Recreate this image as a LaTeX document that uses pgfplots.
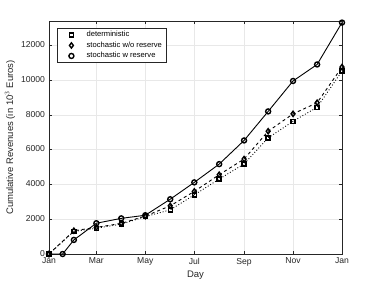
\documentclass[border=0pt]{standalone}
\usepackage{pgfplots}
\pgfplotsset{compat=1.18}
\usepackage{fontspec}
\setmainfont{Liberation Sans}
\definecolor{axgray}{gray}{0.15}
\begin{document}
\begin{tikzpicture}
\begin{axis}[
  at={(0,0)}, anchor=south west,
  scale only axis, width=293pt, height=233pt,
  xmin=0, xmax=365, ymin=0, ymax=13400,
  xtick={0,59,120,181,243,304,365},
  xticklabels={Jan,Mar,May,Jul,Sep,Nov,Jan},
  ytick={0,2000,4000,6000,8000,10000,12000},
  scaled y ticks=false,
  yticklabel style={/pgf/number format/1000 sep={}, yshift=0.8pt, xshift=-0.5pt},
  xticklabel style={yshift=-0.5pt},
  /pgf/number format/assume math mode=true,
  grid=major, grid style={gray!18, line width=0.5pt},
  tick align=inside, major tick length=3pt,
  axis line style={axgray, line width=0.6pt},
  tick style={axgray, line width=0.5pt},
  ticklabel style={font=\fontsize{8.6}{10}\selectfont, text=axgray},
  label style={font=\fontsize{9.5}{11}\selectfont, text=axgray},
  xlabel={Day},
  ylabel={Cumulative Revenues (in 10$^3$ Euros)},
  xlabel style={yshift=1.5pt},
  ylabel style={yshift=-1pt},
  legend style={at={(0.027,0.97)}, anchor=north west,
    font=\fontsize{7.6}{8.5}\selectfont, draw=axgray, line width=0.5pt,
    inner xsep=2pt, inner ysep=1.2pt, row sep=-0.5pt, cells={anchor=west},
    text depth=0.3ex},
  legend cell align=left,
  legend image code/.code={\path (0pt,0pt) (25pt,0pt); \draw[#1] plot coordinates {(12pt,0pt)};},
]
\addplot[black, line width=0.9pt, dotted, mark=square, mark size=2pt,
  mark options={solid, line width=1.4pt, fill=white}, forget plot] coordinates {
(0,0) (31,1300) (59,1480) (90,1720) (120,2150) (151,2540) (181,3400) (212,4310)
(243,5180) (273,6680) (304,7630) (334,8440) (365,10520)};
\addplot[black, line width=0.9pt, dashed, mark=diamond, mark size=2.6pt,
  mark options={solid, line width=1.4pt, fill=white}, forget plot] coordinates {
(0,0) (31,1340) (59,1530) (90,1760) (120,2180) (151,2770) (181,3600) (212,4560)
(243,5460) (273,7060) (304,8060) (334,8700) (365,10750)};
\addplot[black, line width=0.9pt, solid, mark=o, mark size=2.5pt,
  mark options={solid, line width=1.4pt}, forget plot] coordinates {
(0,0) (17,0) (31,810) (59,1770) (90,2050) (120,2230) (151,3150) (181,4120)
(212,5170) (243,6530) (273,8200) (304,9950) (334,10900) (365,13310)};
\addlegendimage{only marks, black, mark=square, mark size=2pt, mark options={line width=1.4pt, fill=white}}
\addlegendentry{deterministic}
\addlegendimage{only marks, black, mark=diamond, mark size=2.6pt, mark options={line width=1.4pt, fill=white}}
\addlegendentry{stochastic w/o reserve}
\addlegendimage{only marks, black, mark=o, mark size=2.5pt, mark options={line width=1.4pt}}
\addlegendentry{stochastic w reserve}
\end{axis}
\pgfresetboundingbox
\path (-49pt,-31pt) rectangle (330pt,254pt);
\end{tikzpicture}
\end{document}
